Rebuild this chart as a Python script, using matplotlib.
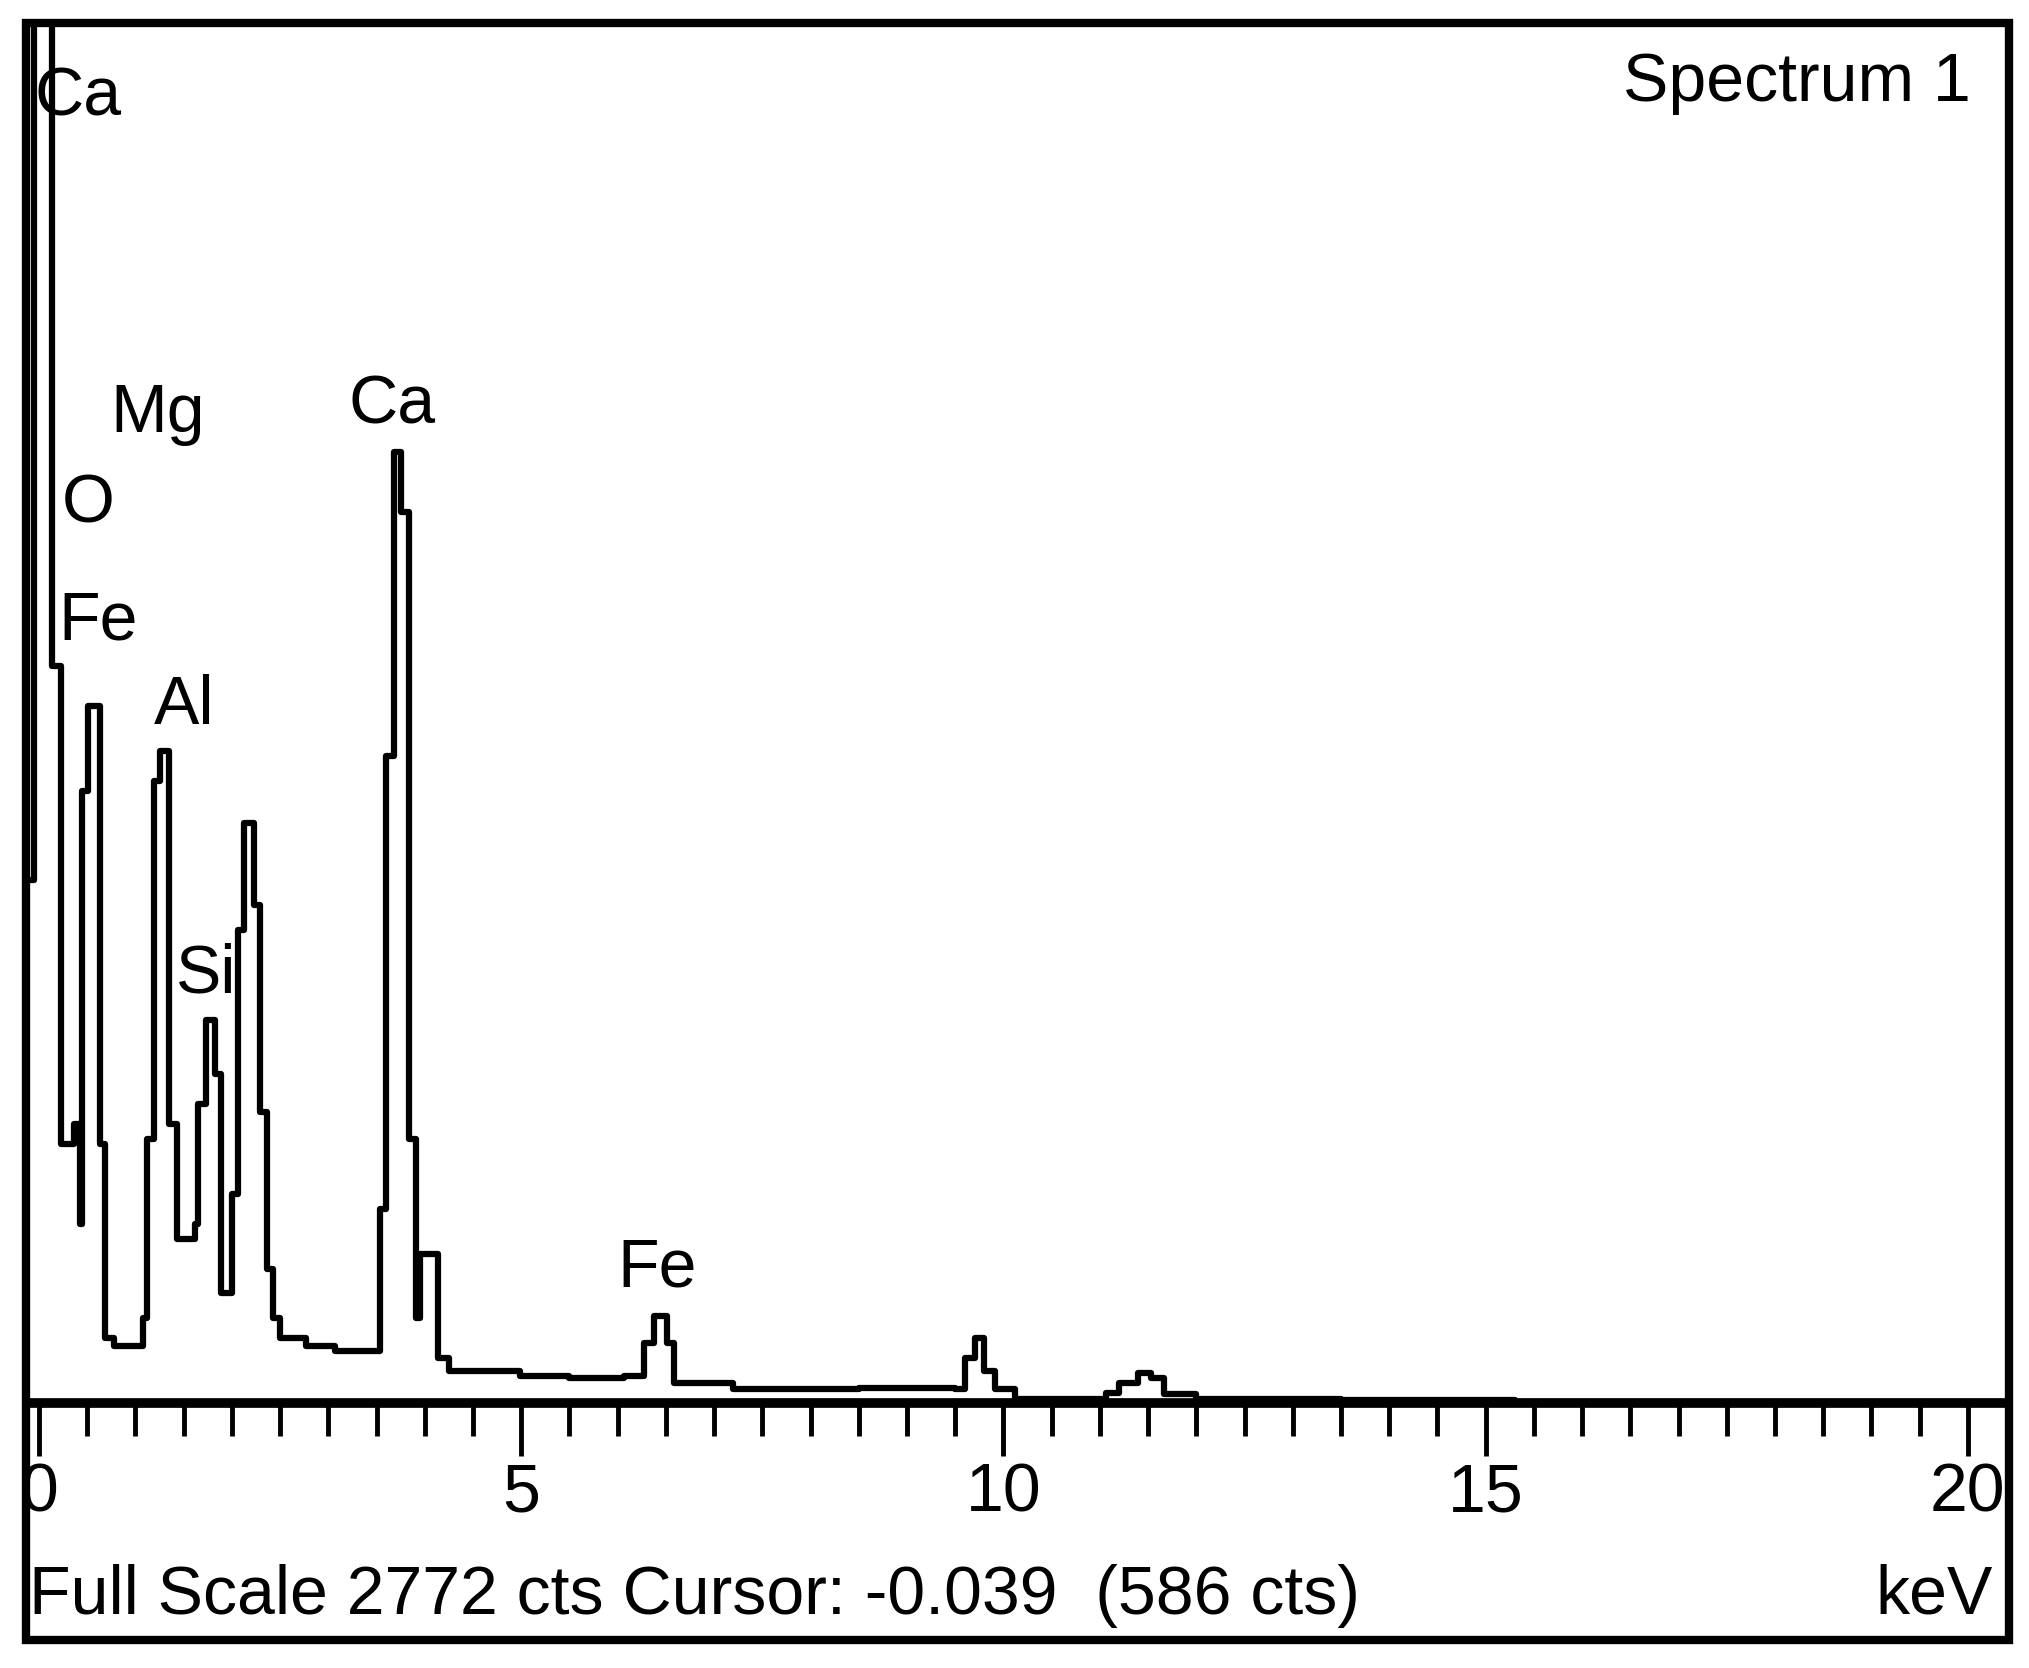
import matplotlib.pyplot as plt
from matplotlib.patches import Rectangle

plt.rcParams["font.family"] = ["Liberation Sans", "DejaVu Sans"]

FULL_SCALE = 2772

# step starts (keV) and counts
energy = [-0.10, -0.05, 0.13, 0.23, 0.36, 0.43, 0.45, 0.51, 0.63, 0.68, 0.78,
          1.08, 1.12, 1.19, 1.25, 1.35, 1.43, 1.62, 1.65, 1.73, 1.82, 1.89,
          2.00, 2.06, 2.13, 2.23, 2.29, 2.36, 2.43, 2.50, 2.77, 3.07, 3.51,
          3.54, 3.60, 3.68, 3.75, 3.84, 3.91, 3.95, 4.11, 4.14, 4.25, 4.99,
          5.5, 6.07, 6.27, 6.38, 6.51, 6.58, 7.0, 7.2, 8.5, 9.5, 9.6, 9.71,
          9.8, 9.91, 10.12, 11.06, 11.2, 11.4, 11.53, 11.66, 12.0, 13.5,
          15.24, 15.3, 20.4]
counts = [1050, 3000, 1480, 520, 560, 360, 1230, 1400, 520, 130, 115,
          170, 530, 1250, 1310, 560, 330, 360, 600, 770, 660, 220,
          420, 950, 1165, 1000, 585, 270, 170, 130, 115, 105, 105,
          390, 1300, 1910, 1790, 530, 170, 300, 300, 90, 65, 55,
          50, 55, 120, 175, 120, 40, 40, 28, 30, 28, 90, 130,
          65, 28, 8, 20, 40, 60, 50, 18, 8, 6,
          5, 2, 2]

peak_labels = ["Ca", "Mg", "Ca", "O", "Fe", "Al", "Si", "Fe"]
label_kev = [-0.05, 0.74, 3.21, 0.24, 0.20, 1.19, 1.42, 6.0]
label_cts = [2587, 1950, 1968, 1768, 1534, 1365, 824, 234]

FS = 49
W, H = 1560, 1290  # reference layout units
fig = plt.figure(figsize=(20.29, 16.68), dpi=100)
fig.patch.set_facecolor("white")

px_per_kev = 74.15
x0_px = 30
ax_left, ax_right, ax_top, ax_base = 22, 1540, 18, 1085
ax = fig.add_axes([ax_left / W, 1 - ax_base / H, (ax_right - ax_left) / W, (ax_base - ax_top) / H])
ax.set_xlim((ax_left - x0_px) / px_per_kev, (ax_right - x0_px) / px_per_kev)
ax.set_ylim(0, FULL_SCALE)
ax.step(energy, counts, where="post", color="black", lw=4.5, clip_on=True)

for lab, xk, yc in zip(peak_labels, label_kev, label_cts):
    ax.text(xk, yc, lab, fontsize=FS, va="baseline", ha="left", color="black")

for s in ["top", "left", "right"]:
    ax.spines[s].set_visible(False)
ax.spines["bottom"].set_linewidth(7)
ax.set_yticks([])
ax.set_xticks([0, 5, 10, 15, 20])
ax.set_xticks([i * 0.5 for i in range(41)], minor=True)
ax.tick_params(axis="x", which="major", length=38, width=3.5, direction="out",
               labelsize=FS, pad=4)
ax.tick_params(axis="x", which="minor", length=24, width=3.5, direction="out")
ax.set_facecolor("none")

fig.text(1515 / W, 1 - 78 / H, "Spectrum 1", fontsize=FS, ha="right", va="baseline")
fig.text(22 / W, 1 - 1248 / H, "Full Scale 2772 cts Cursor: -0.039  (586 cts)",
         fontsize=FS, ha="left", va="baseline")
fig.text(1532 / W, 1 - 1248 / H, "keV", fontsize=FS, ha="right", va="baseline")

fig.patches.append(Rectangle((20 / W, 1 - 1268 / H), 1525 / W, 1250 / H,
                             transform=fig.transFigure, fill=False, lw=6,
                             edgecolor="black", zorder=10))

fig.savefig("out.png", dpi=100, facecolor="white")
